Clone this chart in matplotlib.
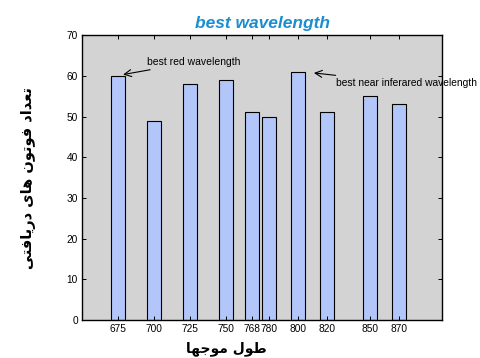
import matplotlib
matplotlib.use("Agg")
import matplotlib.pyplot as plt

# wavelength (nm) and detected photon count
wavelengths = [675, 700, 725, 750, 768, 780, 800, 820, 850, 870]
photons = [60, 49, 58, 59, 51, 50, 61, 51, 55, 53]

title = "best wavelength"
xlabel_fa = "طول موجها"
ylabel_fa = "تعداد فوتون های دریافتی"

# simple persian shaping: (isolated, final, initial, medial)
forms = {
    "ا": ("\uFE8D", "\uFE8E", None, None),
    "د": ("\uFEA9", "\uFEAA", None, None),
    "ر": ("\uFEAD", "\uFEAE", None, None),
    "و": ("\uFEED", "\uFEEE", None, None),
    "ت": ("\uFE95", "\uFE96", "\uFE97", "\uFE98"),
    "ج": ("\uFE9D", "\uFE9E", "\uFE9F", "\uFEA0"),
    "ط": ("\uFEC1", "\uFEC2", "\uFEC3", "\uFEC4"),
    "ع": ("\uFEC9", "\uFECA", "\uFECB", "\uFECC"),
    "ف": ("\uFED1", "\uFED2", "\uFED3", "\uFED4"),
    "ل": ("\uFEDD", "\uFEDE", "\uFEDF", "\uFEE0"),
    "م": ("\uFEE1", "\uFEE2", "\uFEE3", "\uFEE4"),
    "ن": ("\uFEE5", "\uFEE6", "\uFEE7", "\uFEE8"),
    "ه": ("\uFEE9", "\uFEEA", "\uFEEB", "\uFEEC"),
    "ی": ("\uFBFC", "\uFBFD", "\uFBFE", "\uFBFF"),
}


def shape(text):
    out = []
    for word in text.split(" "):
        letters = []
        for i, ch in enumerate(word):
            prev = word[i - 1] if i > 0 else None
            nxt = word[i + 1] if i < len(word) - 1 else None
            joins_prev = prev is not None and forms[prev][2] is not None
            joins_next = nxt is not None and forms[ch][2] is not None
            iso, fin, ini, med = forms[ch]
            if joins_prev and joins_next:
                letters.append(med)
            elif joins_prev:
                letters.append(fin)
            elif joins_next:
                letters.append(ini)
            else:
                letters.append(iso)
        out.append("".join(reversed(letters)))
    return " ".join(reversed(out))


plt.rcParams["font.family"] = ["Liberation Sans", "DejaVu Sans"]

fig = plt.figure(figsize=(4.8, 3.58), dpi=100)
ax = fig.add_axes([0.171, 0.106, 0.75, 0.796])
ax.set_facecolor("#d3d3d3")

ax.bar(wavelengths, photons, width=10, color="#b3c6fa", edgecolor="black", linewidth=0.8)

ax.set_xlim(650, 900)
ax.set_ylim(0, 70)
ax.set_xticks(wavelengths)
ax.set_xticklabels([str(w) for w in wavelengths])
ax.set_yticks(range(0, 71, 10))
ax.tick_params(direction="in", length=3, width=0.7, labelsize=7.3, top=True, right=True, pad=3)
for s in ax.spines.values():
    s.set_linewidth(1.0)

ax.set_title(title, fontsize=12.5, fontweight="bold", fontstyle="italic", color="#1a8ed1", pad=5)
ax.set_xlabel(shape(xlabel_fa), fontsize=10, fontweight="bold", family="DejaVu Sans", labelpad=3)
ax.xaxis.set_label_coords(0.40, -0.075)
ax.set_ylabel(shape(ylabel_fa), fontsize=10.5, fontweight="bold", family="DejaVu Sans", labelpad=22)

arrow = dict(arrowstyle="->,head_length=0.5,head_width=0.25", color="black", lw=0.8,
             shrinkA=0, shrinkB=0, mutation_scale=10)
ax.annotate("best red wavelength", xy=(678.5, 60.3), xytext=(695, 63.4),
            fontsize=7.5, va="center", ha="left", arrowprops=arrow)
ax.annotate("best near inferared wavelength", xy=(811, 60.7), xytext=(826, 58.2),
            fontsize=7.4, va="center", ha="left", annotation_clip=False, arrowprops=arrow)

fig.savefig("out.png", dpi=100)
